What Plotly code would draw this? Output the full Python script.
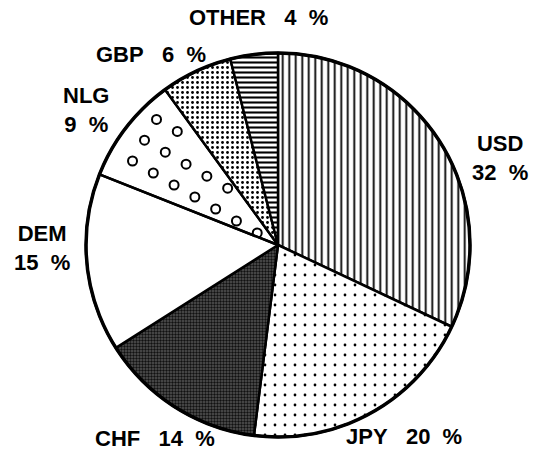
import numpy as np
import plotly.graph_objects as go

categories = ["USD", "JPY", "CHF", "DEM", "NLG", "GBP", "OTHER"]
shares = [32, 20, 14, 15, 9, 6, 4]
two_line = [True, False, False, True, True, False, False]

W, H = 538, 452
CX, CY, R = 278, 245, 192
NB = "\u00a0"

# label placement (styling): angular nudge from each slice's mid-angle, radial distance
label_nudge = [11, -4.6, 0, 4.7, -2.7, -8.6, 2.4]
label_dist = [238, 229, 229, 236, 235, 229, 228]

shapes = ["|", ".", ".", "", "", ".", "-"]
fg = ["black", "black", "#111111", "black", "black", "black", "black"]
bg = ["white", "white", "#555555", "white", "rgba(0,0,0,0)", "white", "white"]
sizes = [6.5, 10, 3, 8, 8, 5, 5]
solid = [0.28, 0.06, 0.5, 0.2, 0.2, 0.25, 0.42]
colors = ["white", "white", "#555555", "white", "rgba(0,0,0,0)", "white", "white"]

fig = go.Figure()

cum = np.cumsum([0] + shares) / sum(shares) * 360.0
mids = (cum[:-1] + cum[1:]) / 2

# hollow circles for the NLG slice, bounded by its angles from the data
i = categories.index("NLG")
a0, a1 = cum[i], cum[i + 1]
pts_x, pts_y = [], []
step = 24
th = np.radians(30)
for gx in np.arange(-R, R, step):
    for gy in np.arange(-R, R, step):
        rx = gx * np.cos(th) - gy * np.sin(th)
        ry = gx * np.sin(th) + gy * np.cos(th)
        r = np.hypot(rx, ry)
        if r < 14 or r > R - 12:
            continue
        ang = np.degrees(np.arctan2(rx, -ry)) % 360
        if a0 + 2.5 < ang < a1 - 2.5:
            pts_x.append(CX + rx)
            pts_y.append(CY + ry)
fig.add_trace(go.Scatter(x=pts_x, y=pts_y, mode="markers",
                         marker=dict(symbol="circle-open", size=9, color="black",
                                     line=dict(width=2, color="black")),
                         hoverinfo="skip", showlegend=False))

fig.add_trace(go.Pie(
    labels=categories, values=shares, textinfo="none",
    sort=False, direction="clockwise", rotation=0,
    marker=dict(colors=colors, line=dict(color="black", width=2.5),
                pattern=dict(shape=shapes, fgcolor=fg, bgcolor=bg, size=sizes,
                             solidity=solid, fillmode="replace")),
    domain=dict(x=[(CX - R) / W, (CX + R) / W], y=[1 - (CY + R) / H, 1 - (CY - R) / H]),
    showlegend=False, hoverinfo="label+percent",
))

# outer ring (thicker border)
fig.add_shape(type="circle", xref="x", yref="y", x0=CX - R, x1=CX + R, y0=CY - R, y1=CY + R,
              line=dict(color="black", width=3.5), layer="above")

for k, (c, v) in enumerate(zip(categories, shares)):
    ang = np.radians(mids[k] + label_nudge[k])
    x = CX + label_dist[k] * np.sin(ang)
    y = CY - label_dist[k] * np.cos(ang)
    val = f"{v}{NB}{NB}%"
    txt = f"{c}<br>{val}" if two_line[k] else f"{c}{NB}{NB}{NB}{val}"
    fig.add_annotation(x=x, y=y, xref="x", yref="y", text=txt, showarrow=False,
                       xanchor="center", yanchor="middle", align="center",
                       font=dict(family="Liberation Sans, Arial", size=22, color="black",
                                 weight="bold"))

fig.update_layout(
    width=W, height=H, margin=dict(l=0, r=0, t=0, b=0),
    paper_bgcolor="white", plot_bgcolor="rgba(0,0,0,0)",
    xaxis=dict(range=[0, W], visible=False, domain=[0, 1], fixedrange=True),
    yaxis=dict(range=[H, 0], visible=False, domain=[0, 1], fixedrange=True),
)
fig.write_html("out.html", config={"displayModeBar": False},
               post_script="document.body.style.margin='0';")
